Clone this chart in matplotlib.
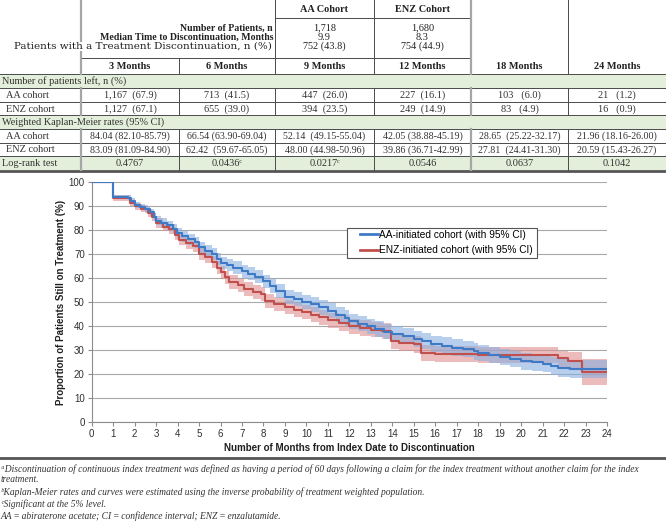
import matplotlib
matplotlib.use("Agg")
import matplotlib.pyplot as plt
from matplotlib.lines import Line2D
from matplotlib.patches import Rectangle

# ---------------- data ----------------
aa_t = [0.0, 1.0, 1.7, 1.85, 2.0, 2.25, 2.5, 2.7, 2.9, 3.0, 3.25, 3.5, 3.8, 3.95, 4.2, 4.5, 4.8, 5.0, 5.3, 5.6,
        5.85, 6.0, 6.3, 6.6, 7.0, 7.3, 7.6, 8.0, 8.3, 8.6, 9.0, 9.4, 9.8, 10.2, 10.6, 11.0, 11.4, 11.8, 12.0, 12.4,
        12.8, 13.2, 13.6, 14.0, 14.5, 15.0, 15.4, 15.8, 16.3, 16.8, 17.3, 17.8, 18.0, 18.5, 19.0, 19.5, 20.0, 20.5,
        21.0, 21.4, 21.7, 22.3, 23.0, 24.0]
aa_s = [100, 94.0, 93.6, 92.3, 90.6, 89.8, 88.8, 87.5, 85.6, 84.0, 83.0, 82.0, 80.6, 78.8, 77.4, 76.3, 75.0, 72.8, 71.5, 70.0,
        68.0, 66.5, 65.4, 64.3, 62.8, 61.8, 60.6, 58.6, 56.8, 54.5, 52.1, 51.2, 50.0, 49.0, 47.8, 46.3, 44.8, 43.3, 42.0, 41.0,
        39.8, 38.8, 37.7, 36.8, 36.0, 34.7, 33.8, 32.6, 31.8, 31.0, 30.3, 29.4, 28.6, 27.8, 27.0, 26.2, 25.3, 24.8,
        24.2, 23.2, 22.4, 22.1, 21.96, 21.96]
aa_lo = [100, 93.0, 92.6, 91.1, 89.3, 88.4, 87.3, 85.9, 83.9, 82.1, 81.1, 80.0, 78.5, 76.7, 75.2, 74.0, 72.6, 70.4, 69.0, 67.4,
         65.4, 63.9, 62.8, 61.6, 60.0, 59.0, 57.8, 55.7, 53.9, 51.6, 49.2, 48.2, 47.0, 46.0, 44.7, 43.2, 41.7, 40.2, 38.9, 37.8,
         36.6, 35.6, 34.5, 33.5, 32.7, 31.4, 30.5, 29.2, 28.4, 27.6, 26.9, 26.0, 25.2, 24.4, 23.6, 22.8, 21.8, 21.2,
         20.6, 19.6, 18.7, 18.3, 18.16, 18.16]
aa_hi = [100, 94.9, 94.6, 93.4, 91.8, 91.1, 90.2, 89.0, 87.2, 85.8, 84.9, 84.0, 82.6, 80.9, 79.6, 78.6, 77.3, 75.2, 74.0, 72.5,
         70.6, 69.0, 68.0, 67.0, 65.5, 64.6, 63.4, 61.4, 59.7, 57.4, 55.0, 54.2, 53.0, 52.0, 50.9, 49.4, 48.0, 46.5, 45.2, 44.2,
         43.0, 42.0, 41.0, 40.1, 39.3, 38.0, 37.1, 36.0, 35.2, 34.4, 33.7, 32.8, 32.2, 31.3, 30.5, 29.7, 28.9, 28.4,
         27.8, 26.9, 26.2, 26.0, 26.0, 26.0]

enz_t = [0.0, 1.0, 1.8, 2.0, 2.3, 2.6, 2.8, 3.0, 3.3, 3.6, 3.9, 4.05, 4.4, 4.7, 5.0, 5.3, 5.6, 5.85, 6.0, 6.2,
         6.4, 6.8, 7.1, 7.5, 7.9, 8.05, 8.5, 9.0, 9.4, 9.8, 10.2, 10.6, 11.0, 11.5, 12.0, 12.5, 13.0, 13.5, 13.95,
         14.3, 15.0, 15.35, 16.0, 18.0, 21.7, 22.2, 22.85, 24.0]
enz_s = [100, 93.5, 91.3, 90.0, 89.0, 87.3, 85.5, 83.1, 81.5, 80.6, 78.0, 76.0, 74.5, 73.2, 70.2, 68.8, 66.8, 64.4, 62.4, 60.3,
         58.3, 57.0, 55.6, 54.3, 53.4, 50.5, 49.3, 48.0, 46.8, 45.8, 44.8, 43.6, 42.3, 41.2, 39.9, 39.2, 38.5, 37.8, 33.8,
         33.0, 32.3, 28.6, 28.3, 27.8, 26.5, 25.5, 20.6, 20.6]
enz_lo = [100, 92.4, 90.0, 88.6, 87.5, 85.7, 83.8, 81.1, 79.5, 78.5, 75.8, 73.8, 72.2, 70.8, 67.7, 66.2, 64.2, 61.7, 59.7, 57.5,
          55.5, 54.1, 52.7, 51.4, 50.4, 47.5, 46.3, 45.0, 43.8, 42.8, 41.7, 40.5, 39.2, 38.1, 36.7, 36.0, 35.3, 34.5, 30.5,
          29.6, 28.9, 25.2, 24.9, 24.4, 23.0, 21.8, 15.4, 15.4]
enz_hi = [100, 94.5, 92.5, 91.3, 90.4, 88.8, 87.1, 84.9, 83.4, 82.6, 80.1, 78.2, 76.8, 75.5, 72.6, 71.3, 69.4, 67.0, 65.1, 63.0,
          61.1, 59.8, 58.5, 57.2, 56.3, 53.5, 52.3, 51.0, 49.8, 48.9, 47.9, 46.7, 45.4, 44.4, 43.0, 42.4, 41.7, 41.1, 37.2,
          36.4, 35.7, 32.0, 31.7, 31.3, 29.6, 29.3, 26.3, 26.3]

month_cols = ["3 Months", "6 Months", "9 Months", "12 Months", "18 Months", "24 Months"]
left_aa = ["1,167  (67.9)", "713  (41.5)", "447  (26.0)", "227  (16.1)", "103   (6.0)", "21   (1.2)"]
left_enz = ["1,127  (67.1)", "655  (39.0)", "394  (23.5)", "249  (14.9)", "83   (4.9)", "16   (0.9)"]
km_aa = ["84.04 (82.10-85.79)", "66.54 (63.90-69.04)", "52.14  (49.15-55.04)", "42.05 (38.88-45.19)",
         "28.65  (25.22-32.17)", "21.96 (18.16-26.00)"]
km_enz = ["83.09 (81.09-84.90)", "62.42  (59.67-65.05)", "48.00 (44.98-50.96)", "39.86 (36.71-42.99)",
          "27.81  (24.41-31.30)", "20.59 (15.43-26.27)"]
logrank = ["0.4767", "0.0436\u1D9C", "0.0217\u1D9C", "0.0546", "0.0637", "0.1042"]
header_labels = ["Number of Patients, n", "Median Time to Discontinuation, Months",
                 "Patients with a Treatment Discontinuation, n (%)"]
aa_header = ["1,718", "9.9", "752 (43.8)"]
enz_header = ["1,680", "8.3", "754 (44.9)"]
legend_labels = ["AA-initiated cohort (with 95% CI)", "ENZ-initiated cohort (with 95% CI)"]
footnotes = [
    "\u1D43Discontinuation of continuous index treatment was defined as having a period of 60 days following a claim for the index treatment without another claim for the index",
    "treatment.",
    "\u1D47Kaplan-Meier rates and curves were estimated using the inverse probability of treatment weighted population.",
    "\u1D9CSignificant at the 5% level.",
    "AA\u2009=\u2009abiraterone acetate; CI\u2009=\u2009confidence interval; ENZ\u2009=\u2009enzalutamide.",
]

# ---------------- figure ----------------
W, H = 666, 524
fig = plt.figure(figsize=(W / 100, H / 100), dpi=100)
bg = fig.add_axes([0, 0, 1, 1])
bg.set_xlim(0, W)
bg.set_ylim(H, 0)
bg.axis("off")

SERIF = ["Liberation Serif", "DejaVu Serif"]
SANS = ["Liberation Sans", "DejaVu Sans"]
green = "#e3efda"
dark = "#4a4a4a"
gray = "#a6a6a6"

for (y0, y1) in [(74, 88), (115, 129), (156, 170)]:
    bg.add_patch(Rectangle((0, y0), W, y1 - y0, facecolor=green, edgecolor="none", zorder=0))


def hline(y, x0, x1, lw=0.7, c=dark):
    bg.add_line(Line2D([x0, x1], [y, y], color=c, lw=lw, zorder=2))


hline(18, 275, 471)
hline(58, 81, 471)
for y in [74, 88, 102, 115, 129, 143, 156]:
    hline(y, 0, W)
hline(170.5, 0, W, lw=2.0, c="#555555")


def vline(x, y0, y1, lw=0.7, c=dark):
    segs = []
    cur = y0
    for (g0, g1) in [(74, 88), (115, 129)]:
        if cur < g0 < y1:
            segs.append((cur, g0))
            cur = g1
    segs.append((cur, y1))
    for a, b in segs:
        bg.add_line(Line2D([x, x], [a, b], color=c, lw=lw, zorder=2))


vline(81, 0, 170, lw=1.6, c=gray)
vline(179, 58, 170)
vline(275, 0, 170)
vline(374, 0, 170)
vline(471, 0, 170, lw=1.6, c=gray)
vline(568, 0, 170)

cols = [81, 179, 275, 374, 471, 568, 666]
centers = [(cols[i] + cols[i + 1]) / 2 for i in range(6)]
tc = "#222222"
FS = 7.4

bg.text(324.5, 9.5, "AA Cohort", ha="center", va="center", fontsize=FS, fontweight="bold", family=SERIF, color=tc)
bg.text(422.5, 9.5, "ENZ Cohort", ha="center", va="center", fontsize=FS, fontweight="bold", family=SERIF, color=tc)
hy = [28, 37, 46.5]
for i, lab in enumerate(header_labels):
    if i < 2:
        bg.text(273, hy[i], lab, ha="right", va="center", fontsize=7.1, fontweight="bold", family=SERIF, color=tc)
    else:
        bg.text(272, hy[i], lab, ha="right", va="center", fontsize=7.5, fontweight="normal",
                family=["DejaVu Serif"], color=tc,
                bbox=dict(facecolor="white", edgecolor="none", pad=0.3), zorder=3)
    bg.text(324.5, hy[i], aa_header[i], ha="center", va="center", fontsize=FS, family=SERIF, color=tc)
    bg.text(422.5, hy[i], enz_header[i], ha="center", va="center", fontsize=FS, family=SERIF, color=tc)

for i, m in enumerate(month_cols):
    bg.text(centers[i], 66.5, m, ha="center", va="center", fontsize=FS, fontweight="bold", family=SERIF, color=tc)

lc = "#333333"
bg.text(2, 81.5, "Number of patients left, n (%)", ha="left", va="center", fontsize=FS, family=SERIF, color=lc)
bg.text(6, 95.5, "AA cohort", ha="left", va="center", fontsize=FS, family=SERIF, color=lc)
bg.text(6, 109, "ENZ cohort", ha="left", va="center", fontsize=FS, family=SERIF, color=lc)
bg.text(2, 122.5, "Weighted Kaplan-Meier rates (95% CI)", ha="left", va="center", fontsize=FS, family=SERIF, color=lc)
bg.text(6, 136.5, "AA cohort", ha="left", va="center", fontsize=FS, family=SERIF, color=lc)
bg.text(6, 150, "ENZ cohort", ha="left", va="center", fontsize=FS, family=SERIF, color=lc)
bg.text(2, 163.5, "Log-rank test", ha="left", va="center", fontsize=FS, family=SERIF, color=lc)

for i in range(6):
    bg.text(centers[i], 95.5, left_aa[i], ha="center", va="center", fontsize=FS, family=SERIF, color=lc)
    bg.text(centers[i], 109, left_enz[i], ha="center", va="center", fontsize=FS, family=SERIF, color=lc)
    bg.text(centers[i], 136.5, km_aa[i], ha="center", va="center", fontsize=7.2, family=SERIF, color=lc)
    bg.text(centers[i], 150, km_enz[i], ha="center", va="center", fontsize=7.2, family=SERIF, color=lc)
    bg.text(centers[i], 163.5, logrank[i], ha="center", va="center", fontsize=FS, family=SERIF, color=lc)

hline(458, 0, W, lw=2.0, c="#555555")
fy = [469, 479.5, 492, 504, 516.5]
for y, t in zip(fy, footnotes):
    bg.text(1, y, t, ha="left", va="center", fontsize=6.85, style="italic", family=SERIF, color="#333333")

# ---------------- chart ----------------
x0p, x1p, y0p, y1p = 91.7, 607.0, 182.3, 421.8
ax = fig.add_axes([x0p / W, 1 - y1p / H, (x1p - x0p) / W, (y1p - y0p) / H])
blue = "#3f7ac6"
red = "#c0504d"
ax.fill_between(enz_t, enz_lo, enz_hi, step="post", color="#e08f8f", alpha=0.6, lw=0, zorder=2)
ax.fill_between(aa_t, aa_lo, aa_hi, step="post", color="#88b0e0", alpha=0.6, lw=0, zorder=3)
ax.step(enz_t, enz_s, where="post", color=red, lw=1.5, zorder=4)
ax.step(aa_t, aa_s, where="post", color=blue, lw=1.5, zorder=5)

ax.set_xlim(0, 24)
ax.set_ylim(0, 100)
ax.set_xticks(range(0, 25))
ax.set_yticks(range(0, 101, 10))
ax.yaxis.grid(True, color="#a8a8a8", lw=0.8)
ax.set_axisbelow(True)
for s in ["top", "right"]:
    ax.spines[s].set_visible(False)
for s in ["left", "bottom"]:
    ax.spines[s].set_color("#8c8c8c")
    ax.spines[s].set_linewidth(0.8)
ax.tick_params(axis="both", colors="#8c8c8c", length=3, width=0.8, labelsize=7, labelcolor="#303030", pad=2)
for lab in ax.get_xticklabels() + ax.get_yticklabels():
    lab.set_family(SANS)
ax.set_xlabel("Number of Months from Index Date to Discontinuation", fontsize=7.0, fontweight="bold",
              family=SANS, color="#202020", labelpad=3)
ax.set_ylabel("Proportion of Patients Still on Treatment (%)", fontsize=7.0, fontweight="bold",
              family=SANS, color="#202020", labelpad=2)

aw, ah = x1p - x0p, y1p - y0p
fx0, fx1, fy0, fy1 = 347, 537, 228, 258
ax.add_patch(Rectangle(((fx0 - x0p) / aw, (y1p - fy1) / ah), (fx1 - fx0) / aw, (fy1 - fy0) / ah,
                       transform=ax.transAxes, facecolor="white", edgecolor="#555555", lw=0.8,
                       zorder=6, clip_on=False))
h = [Line2D([], [], color=blue, lw=2), Line2D([], [], color=red, lw=2)]
leg = ax.legend(h, legend_labels, loc="upper left",
                bbox_to_anchor=((360 - x0p) / aw, (y1p - 230) / ah), prop={"family": SANS, "size": 7.3},
                frameon=False, handlelength=1.75, handletextpad=0.15, borderpad=0,
                labelspacing=0.5, borderaxespad=0)
leg.set_zorder(7)

fig.savefig("out.png", dpi=100)
